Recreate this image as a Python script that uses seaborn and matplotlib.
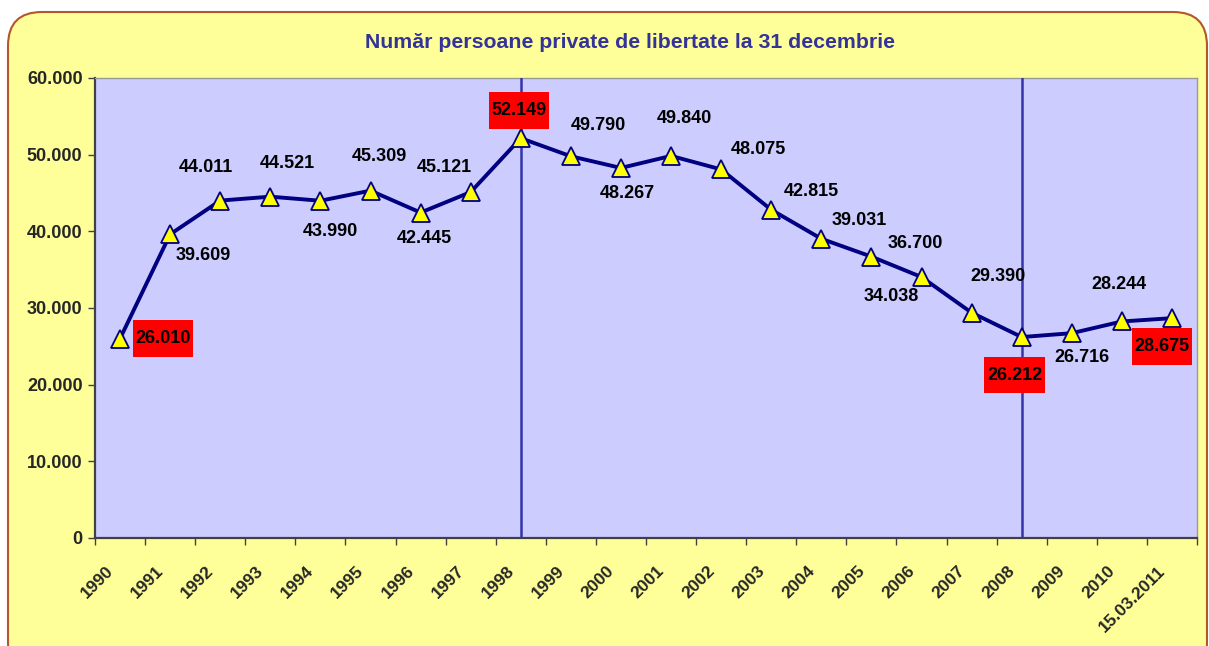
import numpy as np
import pandas as pd
import seaborn as sns
import matplotlib
matplotlib.use("Agg")
import matplotlib.pyplot as plt
from matplotlib.patches import FancyBboxPatch
from matplotlib.path import Path
from matplotlib.transforms import ScaledTranslation
from matplotlib.ticker import FuncFormatter, FixedLocator

# ---- data ----
categories = ["1990", "1991", "1992", "1993", "1994", "1995", "1996", "1997",
              "1998", "1999", "2000", "2001", "2002", "2003", "2004", "2005",
              "2006", "2007", "2008", "2009", "2010", "15.03.2011"]
values = [26010, 39609, 44011, 44521, 43990, 45309, 42445, 45121,
          52149, 49790, 48267, 49840, 48075, 42815, 39031, 36700,
          34038, 29390, 26212, 26716, 28244, 28675]
highlighted = ["1990", "1998", "2008", "15.03.2011"]
marker_years = ["1998", "2008"]
title = "Număr persoane private de libertate la 31 decembrie"

# label offsets in pixels (dx, dy) relative to each point
label_offsets = [(43, 0), (33, -21), (-14, 33), (17, 33), (10, -31), (9, 34),
                 (4, -26), (-26, 25), (-2, 28), (28, 31), (6, -26), (13, 37),
                 (37, 20), (40, 18), (38, 18), (44, 13), (-30, -19), (26, 36),
                 (-7, -38), (10, -24), (-3, 37), (-10, -28)]

sns.set_theme(style="white")
plt.rcParams['font.family'] = ['Liberation Sans', 'DejaVu Sans']
plt.rcParams['font.weight'] = 'bold'

W, H = 1209, 646
fig = plt.figure(figsize=(W / 100, H / 100), dpi=100)
fig.patch.set_facecolor("white")

# rounded yellow background with brown border (bottom edge runs off the image)
bg = FancyBboxPatch((8 / W, -30 / H), (W - 10) / W, (H + 30 - 12) / H,
                    boxstyle="round,pad=0,rounding_size=0.028",
                    transform=fig.transFigure, facecolor="#FFFF99",
                    edgecolor="#B5562A", linewidth=1.5, zorder=-5,
                    mutation_aspect=W / H)
fig.patches.append(bg)

ax = fig.add_axes([95 / W, (H - 538) / H, 1102 / W, 460 / H])
ax.set_zorder(2)
ax.set_facecolor("#CCCCFF")

df = pd.DataFrame({"idx": np.arange(len(categories)), "value": values})
sns.lineplot(data=df, x="idx", y="value", ax=ax, color="#000080",
             linewidth=2.8, marker="^", markersize=13,
             markerfacecolor="#FFFF00", markeredgecolor="#000080",
             markeredgewidth=1.3, zorder=4)

for yr in marker_years:
    ax.axvline(categories.index(yr), color="#3333AA", linewidth=1.8, zorder=3)


def red_box(x0, y0, width, height, mutation_size):
    px = 0.15 * mutation_size
    py = 0.55 * mutation_size
    x0, y0 = x0 - px, y0 - py
    x1, y1 = x0 + width + 2 * px, y0 + height + 2 * py
    return Path([(x0, y0), (x1, y0), (x1, y1), (x0, y1), (x0, y0)],
                closed=True)


for i, (cat, v) in enumerate(zip(categories, values)):
    dx, dy = label_offsets[i]
    kw = {}
    if cat in highlighted:
        kw["bbox"] = dict(boxstyle=red_box, facecolor="#FF0000",
                          edgecolor="none")
    ax.annotate(f"{v:,}".replace(",", "."), (i, v), xytext=(dx, dy),
                textcoords="offset pixels", ha="center", va="center",
                fontsize=13, fontweight="bold", color="black",
                zorder=5, **kw)

n = len(categories)
ax.set_xlim(-0.5, n - 0.5)
ax.set_ylim(0, 60000)
ax.set_xlabel("")
ax.set_ylabel("")

ax.yaxis.set_major_locator(FixedLocator(np.arange(0, 60001, 10000)))
ax.yaxis.set_major_formatter(FuncFormatter(
    lambda v, p: "0" if v == 0 else f"{int(v):,}".replace(",", ".")))
ax.tick_params(axis="y", which="major", left=True, length=5, width=1,
               color="#404040", labelsize=13, pad=4)

ax.set_xticks(np.arange(-0.5, n, 1.0))
ax.set_xticklabels([])
ax.set_xticks(np.arange(n), minor=True)
ax.set_xticklabels(categories, minor=True, rotation=45, ha="right",
                   va="center", rotation_mode="anchor", fontsize=12.5,
                   fontweight="bold")
ax.tick_params(axis="x", which="major", bottom=True, length=5, width=1,
               color="#404040")
ax.tick_params(axis="x", which="minor", bottom=False, length=0, pad=22)
shift = ScaledTranslation(-9 / 100, 0, fig.dpi_scale_trans)
for lbl in ax.get_xticklabels(minor=True):
    lbl.set_fontweight("bold")
    lbl.set_transform(lbl.get_transform() + shift)
for lbl in ax.get_yticklabels():
    lbl.set_fontweight("bold")

for side in ["left", "bottom"]:
    ax.spines[side].set_color("#404040")
    ax.spines[side].set_linewidth(1.6)
for side in ["top", "right"]:
    ax.spines[side].set_color("#999999")
    ax.spines[side].set_linewidth(1.0)

fig.text(630 / W, 1 - 43 / H, title, ha="center", va="center",
         fontsize=15.3, fontweight="bold", color="#333399")

fig.savefig("out.png", dpi=100)
